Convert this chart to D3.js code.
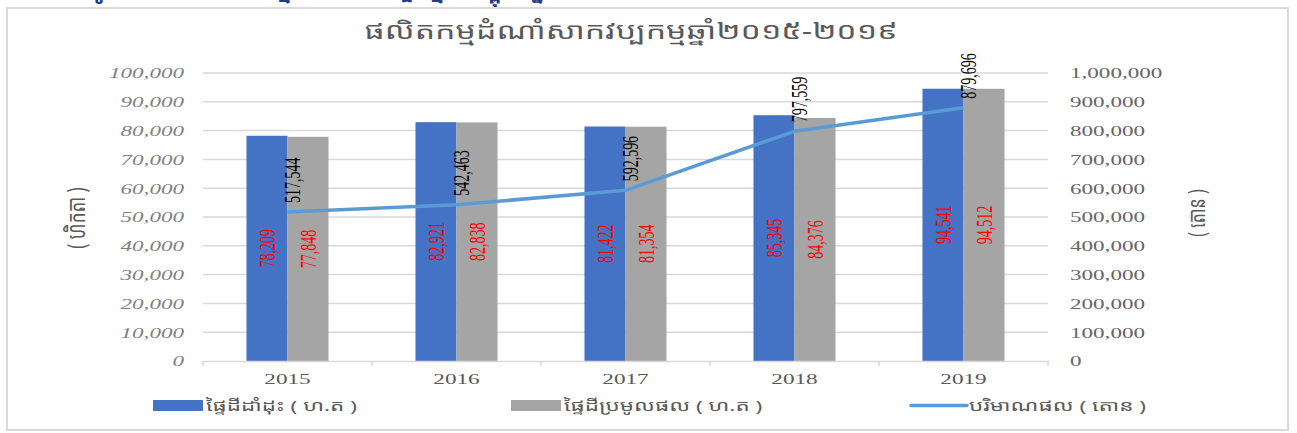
<!DOCTYPE html>
<html>
<head>
<meta charset="utf-8">
<script src="https://cdn.jsdelivr.net/npm/d3@7/dist/d3.min.js"></script>
<style>
  body { margin: 0; background: #fff; }
  svg { display: block; }
</style>
</head>
<body>
<div id="chart"></div>
<script>
// data
const years = ["2015", "2016", "2017", "2018", "2019"];
const plantedArea = [78209, 82921, 81422, 85345, 94541];
const harvestedArea = [77848, 82838, 81354, 84376, 94512];
const production = [517544, 542463, 592596, 797559, 879696];
const leftTicks = [0, 10000, 20000, 30000, 40000, 50000, 60000, 70000, 80000, 90000, 100000];
const rightTicks = [0, 100000, 200000, 300000, 400000, 500000, 600000, 700000, 800000, 900000, 1000000];
const seriesNames = ["ផ្ទៃដីដាំដុះ ( ហ.ត )", "ផ្ទៃដីប្រមូលផល ( ហ.ត )", "បរិមាណផល ( តោន )"];
const chartTitle = "ផលិតកម្មដំណាំសាកវប្បកម្មឆ្នាំ២០១៥-២០១៩";
const headingText = "រូបភាពទី ៣៖ ផលិតកម្មដំណាំសាកវប្បកម្មនៅកម្ពុជា ឆ្នាំ២០១៥-២០១៩";

const W = 1297, H = 433;
const plot = {left: 203, right: 1048, top: 73, bottom: 361};
const stretch = 1.65; // the original picture is widened sideways
const serif = "'Liberation Serif', 'Times New Roman', serif";
const khmer = "'Noto Sans Khmer', 'Noto Serif Khmer', 'Khmer OS', 'Noto Sans', sans-serif";

const svg = d3.select("#chart").append("svg")
    .attr("width", W)
    .attr("height", H);

// cropped heading above the frame
svg.append("text")
    .attr("x", 95).attr("y", -3)
    .attr("fill", "#1f3c88")
    .attr("font-family", khmer)
    .attr("font-weight", "bold")
    .attr("font-size", 22)
    .text(headingText);

// frame
svg.append("rect")
    .attr("x", 7).attr("y", 8)
    .attr("width", 1281).attr("height", 422)
    .attr("fill", "#fff")
    .attr("stroke", "#d9d9d9")
    .attr("stroke-width", 2);

// scales
const x = d3.scaleBand()
    .domain(years)
    .range([plot.left, plot.right])
    .padding(0);

const xSub = d3.scaleBand()
    .domain(["planted", "harvested"])
    .range([0, x.bandwidth()])
    .paddingInner(0)
    .paddingOuter(1.06);

const yL = d3.scaleLinear().domain([0, 100000]).range([plot.bottom, plot.top]);
const yR = d3.scaleLinear().domain([0, 1000000]).range([plot.bottom, plot.top]);

// gridlines
svg.append("g")
    .selectAll("line")
    .data(leftTicks.slice(1))
    .join("line")
    .attr("x1", plot.left).attr("x2", plot.right)
    .attr("y1", d => yL(d)).attr("y2", d => yL(d))
    .attr("stroke", "#d9d9d9")
    .attr("stroke-width", 1.5);

// left axis labels
const leftAxis = svg.append("g")
    .attr("transform", `translate(${plot.left},0)`)
    .call(d3.axisLeft(yL).tickValues(leftTicks).tickSize(0).tickFormat(d3.format(",")));
leftAxis.select(".domain").remove();
leftAxis.selectAll("text")
    .attr("x", 0)
    .attr("dy", "0.35em")
    .attr("transform", `translate(-19,0) scale(${stretch},1)`)
    .attr("fill", "#808080")
    .attr("font-family", serif)
    .attr("font-style", "italic")
    .attr("font-size", 14);

// right axis labels
const rightAxis = svg.append("g")
    .attr("transform", `translate(${plot.right},0)`)
    .call(d3.axisRight(yR).tickValues(rightTicks).tickSize(0).tickFormat(d3.format(",")));
rightAxis.select(".domain").remove();
rightAxis.selectAll("text")
    .attr("x", 0)
    .attr("dy", "0.35em")
    .attr("transform", `translate(22,0) scale(${stretch},1)`)
    .attr("fill", "#666")
    .attr("font-family", serif)
    .attr("font-size", 14);

// bars
const barData = years.map((yr, i) => [
    {year: yr, key: "planted", value: plantedArea[i], color: "#4472c4"},
    {year: yr, key: "harvested", value: harvestedArea[i], color: "#a5a5a5"}
]).flat();

svg.append("g")
    .selectAll("rect")
    .data(barData)
    .join("rect")
    .attr("x", d => x(d.year) + xSub(d.key))
    .attr("y", d => yL(d.value))
    .attr("width", xSub.bandwidth())
    .attr("height", d => yL(0) - yL(d.value))
    .attr("fill", d => d.color);

// bar value labels
svg.append("g")
    .selectAll("text")
    .data(barData)
    .join("text")
    .attr("transform", d => `translate(${x(d.year) + xSub(d.key) + xSub.bandwidth() / 2},${(yL(d.value) + yL(0)) / 2}) rotate(-90) scale(1,${stretch})`)
    .attr("text-anchor", "middle")
    .attr("dominant-baseline", "central")
    .attr("fill", "#ff0000")
    .attr("font-family", serif)
    .attr("font-size", 14)
    .text(d => d3.format(",")(d.value));

// x axis line and ticks
const xAxis = svg.append("g")
    .attr("transform", `translate(0,${plot.bottom})`)
    .call(d3.axisBottom(x).tickSize(0).tickSizeOuter(0));
xAxis.select(".domain").attr("stroke", "#d9d9d9").attr("stroke-width", 1.5);
xAxis.selectAll("text")
    .attr("y", 0).attr("dy", 0)
    .attr("transform", `translate(0,23) scale(1.6,1)`)
    .attr("fill", "#595959")
    .attr("font-family", serif)
    .attr("font-size", 14.5);
svg.append("g")
    .selectAll("line")
    .data(years.concat(["end"]))
    .join("line")
    .attr("x1", d => d === "end" ? plot.right : x(d))
    .attr("x2", d => d === "end" ? plot.right : x(d))
    .attr("y1", plot.bottom).attr("y2", plot.bottom + 5)
    .attr("stroke", "#d9d9d9")
    .attr("stroke-width", 1.5);

// production line
const line = d3.line()
    .x((d, i) => x(years[i]) + x.bandwidth() / 2)
    .y(d => yR(d));

svg.append("path")
    .datum(production)
    .attr("fill", "none")
    .attr("stroke", "#5b9bd5")
    .attr("stroke-width", 3.5)
    .attr("stroke-linejoin", "round")
    .attr("d", line);

svg.append("g")
    .selectAll("text")
    .data(production)
    .join("text")
    .attr("transform", (d, i) => `translate(${x(years[i]) + x.bandwidth() / 2 + 5},${yR(d) - 9}) rotate(-90) scale(1,${stretch})`)
    .attr("text-anchor", "start")
    .attr("dominant-baseline", "central")
    .attr("fill", "#000")
    .attr("font-family", serif)
    .attr("font-size", 14)
    .text(d => d3.format(",")(d));

// title
svg.append("text")
    .attr("transform", `translate(631,39) scale(1.4,1)`)
    .attr("text-anchor", "middle")
    .attr("fill", "#595959")
    .attr("font-family", khmer)
    .attr("font-size", 23)
    .text(chartTitle);

// axis titles
svg.append("text")
    .attr("transform", `translate(75,218) rotate(-90) scale(1,1.5)`)
    .attr("text-anchor", "middle")
    .attr("dominant-baseline", "central")
    .attr("fill", "#595959")
    .attr("font-family", khmer)
    .attr("font-size", 17)
    .text("( ហិកតា )");

svg.append("text")
    .attr("transform", `translate(1196,213) rotate(-90) scale(1,1.5)`)
    .attr("text-anchor", "middle")
    .attr("dominant-baseline", "central")
    .attr("fill", "#595959")
    .attr("font-family", khmer)
    .attr("font-size", 16)
    .text("( តោន )");

// legend
const legendX = [153, 511, 911];
const legend = svg.append("g");
legend.append("rect")
    .attr("x", legendX[0]).attr("y", 400).attr("width", 50).attr("height", 11)
    .attr("fill", "#4472c4");
legend.append("rect")
    .attr("x", legendX[1]).attr("y", 400).attr("width", 50).attr("height", 11)
    .attr("fill", "#a5a5a5");
legend.append("line")
    .attr("x1", legendX[2]).attr("x2", legendX[2] + 56)
    .attr("y1", 405.5).attr("y2", 405.5)
    .attr("stroke", "#5b9bd5")
    .attr("stroke-width", 3.5)
    .attr("stroke-linecap", "round");
legend.selectAll("text")
    .data(seriesNames)
    .join("text")
    .attr("transform", (d, i) => `translate(${legendX[i] + (i === 2 ? 58 : 53)},411) scale(1.5,1)`)
    .attr("fill", "#595959")
    .attr("font-family", khmer)
    .attr("font-size", 15)
    .text(d => d);
</script>
</body>
</html>
